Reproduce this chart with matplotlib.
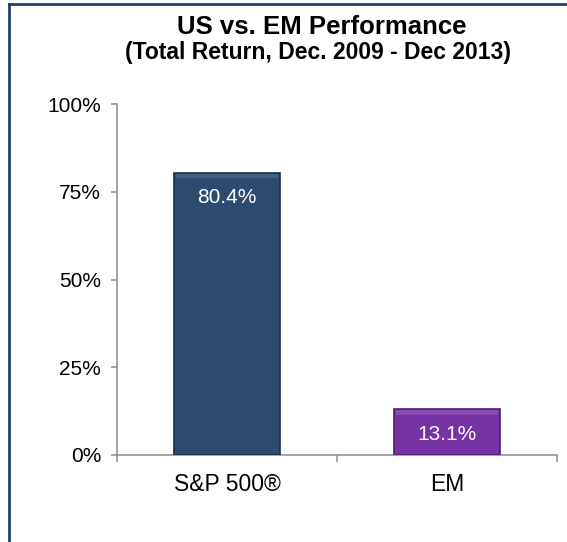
import matplotlib.pyplot as plt
from matplotlib.lines import Line2D

plt.rcParams['font.family'] = ['Liberation Sans', 'DejaVu Sans']

categories = ['S&P 500®', 'EM']
returns = [80.4, 13.1]
labels = ['80.4%', '13.1%']
colors = ['#2D4A6F', '#7732A6']
edges = ['#1B2F49', '#4E1F70']
yticks = [0, 25, 50, 75, 100]
ytick_labels = ['0%', '25%', '50%', '75%', '100%']

fig = plt.figure(figsize=(5.67, 5.42), dpi=100)
ax = fig.add_axes([117 / 567, 1 - 455 / 542, 440 / 567, 351 / 542])

x = [0.5, 1.5]
bars = ax.bar(x, returns, width=0.48, color=colors, edgecolor=edges,
              linewidth=1.2, zorder=3)
# light bevel strip along the top of each bar
for xi, v in zip(x, returns):
    ax.bar(xi, 1.2, bottom=v - 1.6, width=0.46, color='white', alpha=0.12,
           linewidth=0, zorder=4)

for b, lab in zip(bars, labels):
    ax.annotate(lab, (b.get_x() + b.get_width() / 2, b.get_height()),
                xytext=(0, -18), textcoords='offset points',
                ha='center', va='center', color='white', fontsize=15, zorder=5)

ax.set_xlim(0, 2)
ax.set_ylim(0, 100)
ax.set_yticks(yticks)
ax.set_yticklabels(ytick_labels, fontsize=15)
ax.set_xticks([0, 1, 2])
ax.set_xticklabels([])
ax.set_xticks(x, minor=True)
ax.set_xticklabels(categories, minor=True, fontsize=16.5)
ax.tick_params(axis='x', which='minor', length=0, pad=13)
ax.tick_params(axis='x', which='major', direction='out', length=5,
               color='#8C8C8C', width=1.1)
ax.tick_params(axis='y', direction='out', length=4, color='#8C8C8C',
               width=1.1, pad=7.5)
for s in ['top', 'right']:
    ax.spines[s].set_visible(False)
for s in ['left', 'bottom']:
    ax.spines[s].set_color('#8C8C8C')
    ax.spines[s].set_linewidth(1.1)

fig.text(322 / 567, 1 - 27 / 542, 'US vs. EM Performance', ha='center',
         va='center', fontsize=18.5, fontweight='bold')
fig.text(318 / 567, 1 - 52 / 542, '(Total Return, Dec. 2009 - Dec 2013)',
         ha='center', va='center', fontsize=16.5, fontweight='bold')

# outer frame (top and left visible)
border = '#243F62'
fig.add_artist(Line2D([9 / 567, 9 / 567], [0, 1 - 4 / 542], color=border,
                      lw=2, transform=fig.transFigure))
fig.add_artist(Line2D([9 / 567, 1], [1 - 4 / 542, 1 - 4 / 542], color=border,
                      lw=2, transform=fig.transFigure))

fig.savefig('out.png', dpi=100)
